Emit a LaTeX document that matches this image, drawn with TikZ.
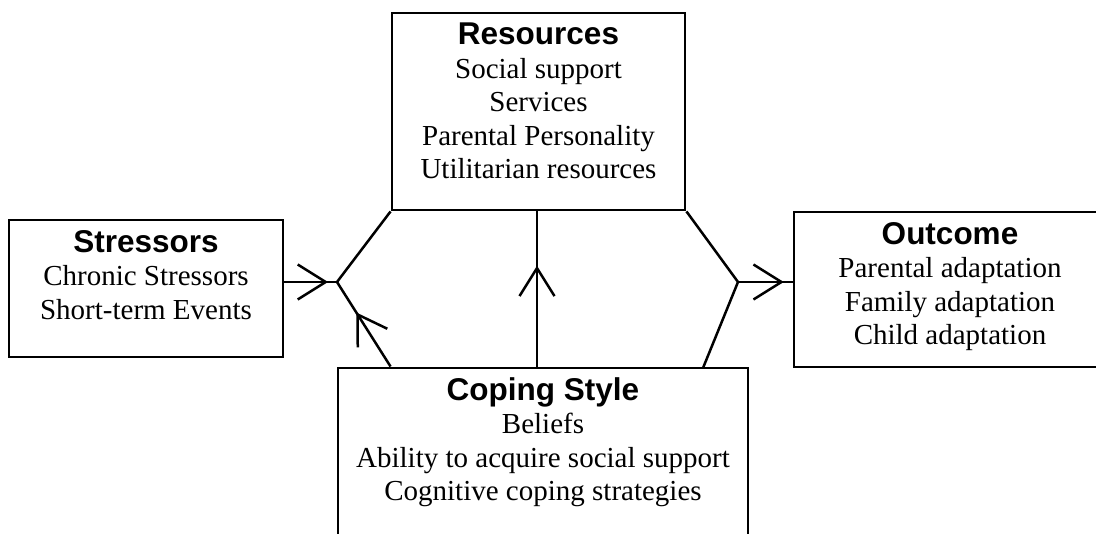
\documentclass[tikz,border=0pt]{standalone}
\usepackage{fontspec}
\setmainfont{Liberation Serif}
\newfontfamily\headfont{Liberation Sans}
\usetikzlibrary{arrows.meta,decorations.markings}

% bold sans heading inside each box
\newcommand\boxhead[1]{{\headfont\bfseries\fontsize{31.5}{33.5}\selectfont #1}}

\tikzset{
  panel/.style={draw, line width=2.9pt, inner sep=0pt},
  panetext/.style={align=center, inner sep=0pt, anchor=north,
                   font=\fontsize{29}{33.5}\selectfont},
  link/.style={line width=2.5pt},
  midarrow/.style={postaction={decorate},
    decoration={markings, mark=at position #1 with
      {\arrow{Straight Barb[length=28pt,width=35pt]}}}}
}

\begin{document}
\begin{tikzpicture}[x=1pt,y=-1pt]
  \useasboundingbox (0,0) rectangle (1096,534);
  \clip (0,0) rectangle (1096,534);

  % boxes
  \node[panel, minimum width=293pt, minimum height=197pt] (res) at (538.5,111.5) {};
  \node[panel, minimum width=274pt, minimum height=137pt] (str) at (146,288.5) {};
  \node[panel, minimum width=312pt, minimum height=155pt] (out) at (950,289.5) {};
  \node[panel, minimum width=410pt, minimum height=200pt] (cop) at (543,468) {};

  % box contents
  \node[panetext] (resT) at (538.5,23) {\boxhead{Resources}\\Social support\\Services\\Parental Personality\\Utilitarian resources};
  \node[panetext] (strT) at (146,230) {\boxhead{Stressors}\\Chronic Stressors\\Short-term Events};
  \node[panetext] (outT) at (950,222) {\boxhead{Outcome}\\Parental adaptation\\Family adaptation\\Child adaptation};
  \node[panetext] (copT) at (543,377) {\boxhead{Coping Style}\\Beliefs\\Ability to acquire social support\\Cognitive coping strategies};

  % junction points of the two wedges
  \coordinate (jl) at (337,282);
  \coordinate (jr) at (738,282);
  \coordinate (cr) at (703,368);

  % left wedge
  \draw[link] (res.south west) -- (jl);
  \draw[link, midarrow=0.64] (res.south west |- cop.north) -- (jl);
  \draw[link, midarrow=0.83] (str.east |- jl) -- (jl);

  % right wedge
  \draw[link] (res.south east) -- (jr) -- (cr);
  \draw[link, midarrow=0.84] (jr) -- (out.west |- jr);

  % coping style feeding resources
  \draw[link, midarrow=0.65] (cop.north -| 537,0) -- (res.south -| 537,0);
\end{tikzpicture}
\end{document}
